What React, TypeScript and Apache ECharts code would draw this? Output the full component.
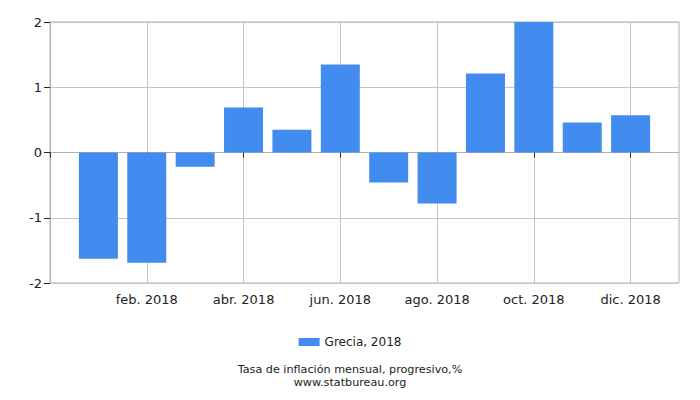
import React, { useEffect, useRef } from "react";
import * as echarts from "echarts";

const monthLabels = ["ene.", "feb.", "mar.", "abr.", "may.", "jun.", "jul.", "ago.", "sep.", "oct.", "nov.", "dic."];
const year = "2018";
const values = [-1.63, -1.69, -0.22, 0.69, 0.35, 1.35, -0.46, -0.78, 1.21, 2.0, 0.46, 0.57];
const seriesName = "Grecia, 2018";
const yTicks = [-2, -1, 0, 1, 2];
const labelPositions = [2, 4, 6, 8, 10, 12];
const tickPositions = [0, 2, 4, 6, 8, 10, 12];
const titleLine1 = "Tasa de inflación mensual, progresivo,%";
const titleLine2 = "www.statbureau.org";

export default function App() {
  const ref = useRef<HTMLDivElement>(null);
  useEffect(() => {
    if (!ref.current) return;
    const chart = echarts.init(ref.current, null, { renderer: "svg" });
    const font = "DejaVu Sans";
    chart.setOption({
      animation: false,
      textStyle: { fontFamily: font },
      grid: {
        left: 50,
        right: 21,
        top: 22,
        bottom: 117,
        show: true,
        borderColor: "#b0b0b0",
        borderWidth: 1,
      },
      title: [
        {
          text: titleLine1,
          left: "center",
          top: 363,
          padding: 0,
          textStyle: { fontSize: 11.2, lineHeight: 12, fontWeight: "normal", color: "#222", fontFamily: font },
        },
        {
          text: titleLine2,
          left: "center",
          top: 376,
          padding: 0,
          textStyle: { fontSize: 11.2, lineHeight: 12, fontWeight: "normal", color: "#222", fontFamily: font },
        },
      ],
      legend: {
        data: [seriesName],
        top: 331,
        left: "center",
        itemWidth: 21,
        itemHeight: 8,
        itemGap: 5,
        textStyle: { fontSize: 12, color: "#222", fontFamily: font },
        icon: "rect",
      },
      xAxis: {
        type: "value",
        min: 0,
        max: 13,
        interval: 1,
        axisLine: { show: true, lineStyle: { color: "#b0b0b0" } },
        axisTick: {
          show: true,
          length: 5,
          customValues: tickPositions,
          lineStyle: { color: "#222" },
        },
        splitLine: { show: true, lineStyle: { color: "#c4c4c4" } },
        axisLabel: {
          customValues: labelPositions,
          fontSize: 13,
          color: "#222",
          fontFamily: font,
          margin: 10,
          formatter: (v: number) => {
            const i = Math.round(v) - 1;
            return i >= 0 && i < monthLabels.length ? monthLabels[i] + " " + year : "";
          },
        },
      },
      yAxis: {
        type: "value",
        min: yTicks[0],
        max: yTicks[yTicks.length - 1],
        interval: 1,
        axisLine: { show: true, lineStyle: { color: "#b0b0b0" } },
        axisTick: { show: true, length: 6, lineStyle: { color: "#222" } },
        splitLine: { show: true, lineStyle: { color: "#c4c4c4" } },
        axisLabel: { fontSize: 13, color: "#222", fontFamily: font, margin: 8 },
      },
      series: [
        {
          name: seriesName,
          type: "bar",
          barWidth: 39,
          itemStyle: { color: "#428bef" },
          data: values.map((v, i) => [i + 1, v]),
        },
      ],
    });
    return () => chart.dispose();
  }, []);
  return (
    <div
      ref={ref}
      style={{ position: "fixed", left: 0, top: 0, width: 700, height: 400, background: "#fff" }}
    />
  );
}
